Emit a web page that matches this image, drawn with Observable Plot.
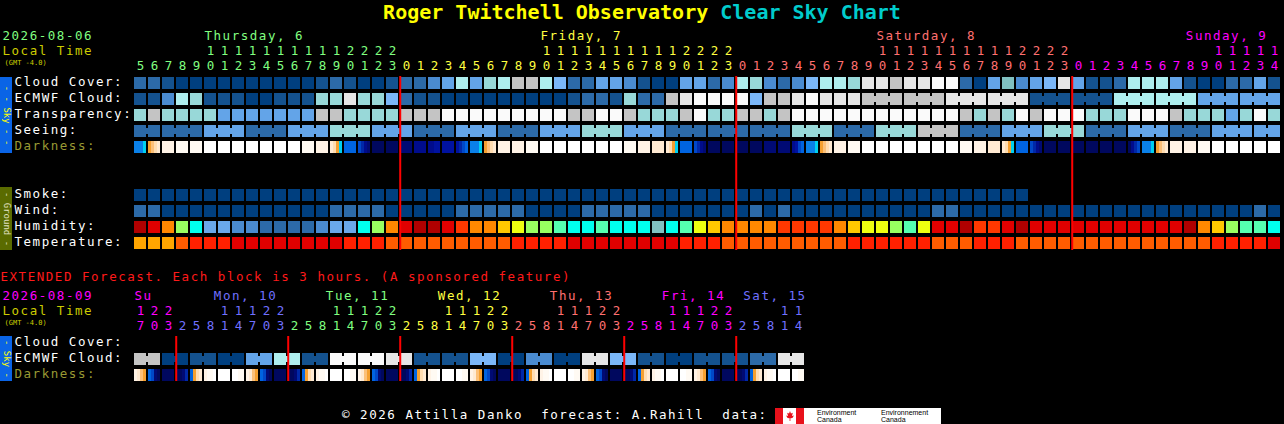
<!DOCTYPE html>
<html>
<head>
<meta charset="utf-8">
<script src="https://cdn.jsdelivr.net/npm/d3@7"></script>
<script src="https://cdn.jsdelivr.net/npm/@observablehq/plot@0.6"></script>
<style>
  html, body { margin: 0; padding: 0; background: #000; overflow: hidden; }
  #wrap { position: relative; width: 1284px; height: 424px; background: #000; }
  #wrap svg { position: absolute; left: 0; top: 0; display: block; }
  #wrap svg g[font-size="12.5"] { letter-spacing: 1.53px; }
  #title { position: absolute; left: 0; top: 0; width: 1284px; text-align: center; font: bold 20px "DejaVu Sans Mono", monospace; line-height: 24px; white-space: pre; z-index: 2; }
  #footer { position: absolute; left: 342px; top: 406px; font: 12.5px "DejaVu Sans Mono", monospace; letter-spacing: 1.53px; line-height: 18px; color: #fff; white-space: pre; z-index: 2; }
  #logo { position: absolute; left: 775px; top: 408px; width: 166px; height: 16px; background: #fff; z-index: 2; overflow: hidden; }
  #logo .r { position: absolute; top: 0; height: 16px; width: 8px; background: #e8111b; }
  #logo .leaf { position: absolute; left: 11px; top: 3px; width: 8px; height: 10px; background: #e8111b;
    clip-path: polygon(50% 0, 62% 25%, 85% 18%, 75% 50%, 100% 45%, 80% 70%, 55% 72%, 55% 100%, 45% 100%, 45% 72%, 20% 70%, 0 45%, 25% 50%, 15% 18%, 38% 25%); }
  #logo .t { position: absolute; top: 1px; font: 7px/7px "Liberation Sans", sans-serif; color: #000; white-space: pre; }
</style>
</head>
<body>
<div id="wrap">
  <div id="title"></div>
  <div id="footer"></div>
  <div id="logo"><div class="r" style="left:0"></div><div class="leaf"></div><div class="r" style="left:21px"></div>
    <div class="t" style="left:42px">Environment
Canada</div><div class="t" style="left:106px">Environnement
Canada</div></div>
</div>
<script>
// ---------------- DATA ----------------
const titleMain = "Roger Twitchell Observatory";
const titleSub = "Clear Sky Chart";
const footerText = "\u00A9 2026 Attilla Danko  forecast: A.Rahill  data: ";
const mainDate = "2026-08-06";
const extDate = "2026-08-09";
const localTimeLabel = "Local Time";
const gmtLabel = "(GMT -4.0)";
const extendedNote = "EXTENDED Forecast. Each block is 3 hours. (A sponsored feature)";

const mainDayNames = ["Thursday, 6", "Friday, 7", "Saturday, 8", "Sunday, 9"];
const mainFirstHour = [5, 0, 0, 0];
const mainLastHour = [23, 23, 23, 14];

const extDayNames = ["Su", "Mon, 10", "Tue, 11", "Wed, 12", "Thu, 13", "Fri, 14", "Sat, 15"];
const extBlockHours = [
  [17, 20, 23],
  [2, 5, 8, 11, 14, 17, 20, 23],
  [2, 5, 8, 11, 14, 17, 20, 23],
  [2, 5, 8, 11, 14, 17, 20, 23],
  [2, 5, 8, 11, 14, 17, 20, 23],
  [2, 5, 8, 11, 14, 17, 20, 23],
  [2, 5, 8, 11, 14]
];

const skyRowLabels = ["Cloud Cover:", "ECMWF Cloud:", "Transparency:", "Seeing:", "Darkness:"];
const groundRowLabels = ["Smoke:", "Wind:", "Humidity:", "Temperature:"];
const extRowLabels = ["Cloud Cover:", "ECMWF Cloud:", "Darkness:"];

// colour levels (indices into palettes below)
const cloudCover = [2,2,1,0,0,0,0,0,0,0,0,0,0,1,2,1,0,0,1,2,2,
  3,4,6,4,7,6,9,9,6,5,2,2,4,4,3,1,0,0,4,4,2,3,
  6,7,3,2,3,5,6,6,
  7,10,10,9,10,10,11,11,2,0,4,8,3,4,5,10,
  4,1,1,2,6,6,6,4,1,0,0,2,2,4,1];
const ecmwfHourly = [1,1,3,6,7,1,1,1,0,0,1,1,1,7,7,10,7,7,5,2,1,
  1,0,0,0,0,0,0,0,0,0,1,2,2,1,7,2,2,9,10,11,11,11,11,5,9,9,10,11,10,10,
  10];
const ecmwf3h = [9,9,10,10,1,1,6,6,4,4];
const transparency = [7,9,7,7,7,7,4,4,4,4,4,4,4,9,9,7,7,7,7,9,9,
  9,11,11,11,11,11,11,11,11,11,9,9,11,11,9,7,7,7,9,11,7,7,
  9,9,7,9,11,11,11,11,11,11,11,11,11,11,11,11,9,7,9,7,11,9,11,11,
  11,7,7,7,11,11,11,9,7,7,7,4,7,11,7];
const seeing3h = [2,2,4,2,4,7,4,2,4,2,4,7,4,2,2,2,7,2,7,9,2,4,7,2,4,2,4,4];
const smoke = [0,0,0,0,0,0,0,0,0,0,0,0,0,0,0,0,0,0,0,0,0,0,0,0,0,0,0,0,0,0,0,0,
  0,0,0,0,0,0,0,0,0,0,0,0,0,0,0,0,0,0,0,0,0,0,0,0,0,0,0,0,0,0,0,0];
const wind = [2,2,0,0,0,0,0,0,0,0,0,0,0,0,2,2,2,2,0,0,0,
  0,0,2,2,2,2,2,0,0,0,0,2,2,2,2,2,0,0,0,0,0,0,0,2,0,2,0,0,0,0,
  0,0,0,0,0,0,2,2,0,0,0,0,0,0,0,0,0,0,0,0,0,0,0,0,0,0,0,0,0,2,0];
const humidity = [12,11,9,6,4,2,2,1,1,0,0,0,0,1,2,2,4,6,9,11,12,
  12,11,10,9,9,8,7,6,6,5,4,4,5,4,4,4,3,4,5,7,8,9,9,9,9,10,10,10,10,9,
  8,7,7,6,5,7,11,11,12,10,10,11,12,11,11,11,11,11,11,11,11,11,11,11,12,9,8,6,5,5,4];
const temperature = [0,0,0,1,2,2,2,3,3,3,3,3,3,3,3,2,2,2,1,1,1,
  1,1,1,1,1,1,2,2,2,2,3,3,3,3,3,3,3,3,2,2,2,1,1,1,1,1,1,1,1,1,
  2,2,2,2,2,2,1,1,1,2,2,2,1,1,1,1,1,1,1,1,1,1,1,1,1,1,2,2,2,2,3];

// darkness: four quarter-hour samples per hourly column
const darkThu = [8,8,8,7, 6,5,4,3, 2,2,2,2, 1,1,1,1, 1,1,1,1, 0,0,0,0, 0,0,0,0, 0,0,0,0, 0,0,0,0,
  0,0,0,0, 0,0,0,0, 0,0,0,0, 1,1,1,1, 2,2,2,2, 3,4,6,7, 9,9,9,9, 10,11,13,14, 15,15,15,15, 15,15,15,15];
const darkFri = [14,14,14,14, 13,13,13,13, 13,13,12,12, 12,12,12,12, 12,11,10,9, 8,8,8,7, 6,5,4,3, 2,2,2,2,
  2,2,2,2, 1,1,1,1, 0,0,0,0, 0,0,0,0, 0,0,0,0, 0,0,0,0, 0,0,0,0, 0,0,0,0,
  1,1,1,1, 2,2,2,2, 3,3,3,3, 3,4,6,7, 9,9,9,9, 10,11,13,14, 15,15,15,15, 15,15,15,15];
const darkSat = [15,15,15,15, 15,15,15,15, 14,14,14,14, 14,14,14,14, 13,12,10,9, 8,8,8,7, 6,5,4,3, 2,2,2,2,
  1,1,1,1, 0,0,0,0, 0,0,0,0, 0,0,0,0, 0,0,0,0, 0,0,0,0, 0,0,0,0, 0,0,0,0,
  1,1,1,1, 2,2,2,2, 3,3,3,3, 3,4,6,7, 9,9,9,9, 10,11,13,14, 15,15,15,15, 15,15,15,15];
const darkSun = [15,15,15,15, 15,15,15,15, 15,15,15,15, 15,15,15,15, 15,13,11,10, 8,8,8,7, 6,5,4,3, 2,2,2,2,
  2,2,2,2, 1,1,1,1, 0,0,0,0, 0,0,0,0, 0,0,0,0, 0,0,0,0, 0,0,0,0];

// extended forecast (3-hour blocks)
const extEcmwf6h = [9,0,1,0,4,6,1,11,11,10,1,1,5,0,3,0,10,5,1,0,1,1,2,10];
const extDarkSu  = [2,3,5,6, 9,10,14,15, 15,15,15,15];
const extDarkMon = [15,15,14,11, 9,6,4,3, 2,1,1,0, 0,0,0,0, 0,0,1,1, 2,3,5,6, 9,10,14,15, 15,15,15,15];
const extDarkTue = [15,15,14,11, 9,6,4,3, 2,1,1,0, 0,0,0,0, 0,0,1,1, 2,3,5,6, 9,10,14,15, 15,15,15,15];
const extDarkWed = [15,15,14,11, 9,6,4,3, 2,1,1,0, 0,0,0,0, 0,0,1,1, 2,3,5,6, 9,10,14,15, 15,15,15,15];
const extDarkThu = [15,15,14,11, 9,6,4,3, 2,1,1,0, 0,0,0,0, 0,0,1,1, 2,3,5,6, 9,10,14,15, 15,15,15,15];
const extDarkFri = [15,15,14,11, 9,6,4,3, 2,1,1,0, 0,0,0,0, 0,0,1,1, 2,3,5,6, 9,10,14,15, 15,15,15,15];
const extDarkSat = [15,15,14,11, 9,6,4,3, 2,1,1,0, 0,0,0,0, 0,0,1,1];

// ---------------- PALETTES ----------------
const palettes = {
  sky: ["#003f7f","#14528f","#2c6aa8","#4a8bd0","#63a4e8","#7bb7f8","#aeeeee","#98d8d8","#80c0c0","#c4c4c4","#e6e6e6","#fafafa"],
  hum: ["#2c6aa8","#4a8bd0","#6aa8ea","#80c0c0","#00ffee","#55ffb0","#98ff60","#eeff10","#ffc800","#ff8800","#ff3800","#e00000","#b00000"],
  temp: ["#ffa500","#ff5c00","#ff2000","#e00000"],
  dark: ["#ffffff","#fffaf3","#fff3e6","#ffead2","#ffdcb0","#fcc078","#f5a030","#00d0f0","#0a80e8","#0064e0","#0048c8","#0028a8","#0012a0","#000c8c","#000a74","#00085e"],
  day: ["#80ff80","#ffff40","#ff7070","#ff00ff","#7070ff"],
  ui: ["#cccc00","#999933","#ff1a1a","#ffffff","#0a64e6","#5a6b00","#ffff00","#e0e0c0","#ff0000"]
};
const colorDomain = [], colorRange = [];
for (const [p, cols] of Object.entries(palettes)) cols.forEach((c, i) => { colorDomain.push(p + "-" + i); colorRange.push(c); });
const UI = {localTime: "ui-0", darkLabel: "ui-1", extNote: "ui-2", white: "ui-3", skyBar: "ui-4", groundBar: "ui-5", skyText: "ui-6", groundText: "ui-7", midnight: "ui-8"};

// ---------------- LAYOUT ----------------
const W = 1284, H = 424;
const LEFT = 134, PITCH = 14, BLOCK = 12, TOP = 77, ROWH = 16, BLOCKH = 12;
const colOf = px => (px - LEFT) / PITCH;
const rowOf = py => (py - TOP) / ROWH;
const ROW = {cloud: 0, ecmwf: 1, transp: 2, seeing: 3, dark: 4, smoke: 7, wind: 8, hum: 9, temp: 10,
  extCloud: rowOf(337), extEcmwf: rowOf(353), extDark: rowOf(369)};
const FONT = "DejaVu Sans Mono";
const FS = 12.5;          // text size; letter-spacing keeps a 9px character pitch
const CHAR = 9.03;
const bw = BLOCK / PITCH, bh = BLOCKH / ROWH;

// columns
const mainCols = [];
mainDayNames.forEach((name, d) => { for (let h = mainFirstHour[d]; h <= mainLastHour[d]; h++) mainCols.push({col: mainCols.length, day: d, hour: h}); });
const extCols = [];
extBlockHours.forEach((hrs, d) => hrs.forEach(h => extCols.push({col: extCols.length, day: d, hour: h})));

// cells
const cells = [], bridges = [];
function addRow(values, row, pal, groupOf) {
  values.forEach((v, i) => cells.push({col: i, row, key: pal + "-" + v}));
  if (groupOf) for (let i = 0; i < values.length - 1; i++) {
    const g1 = groupOf(i), g2 = groupOf(i + 1);
    if (g1 !== null && g1 === g2) bridges.push({col: i, row, key: pal + "-" + values[i]});
  }
}
addRow(cloudCover, ROW.cloud, "sky");
const ecmwfAll = mainCols.map(c => c.col < ecmwfHourly.length ? ecmwfHourly[c.col] : ecmwf3h[Math.floor((c.col - ecmwfHourly.length) / 3)]);
addRow(ecmwfAll, ROW.ecmwf, "sky", i => i < ecmwfHourly.length ? null : Math.floor((i - ecmwfHourly.length) / 3));
addRow(transparency, ROW.transp, "sky");
const seeingAll = mainCols.map(c => seeing3h[Math.floor((c.col + 1) / 3)]);
addRow(seeingAll, ROW.seeing, "sky", i => Math.floor((i + 1) / 3));
addRow(smoke, ROW.smoke, "sky");
addRow(wind, ROW.wind, "sky");
addRow(humidity, ROW.hum, "hum");
addRow(temperature, ROW.temp, "temp");
const extEcmwfAll = extCols.map(c => extEcmwf6h[Math.floor(c.col / 2)]);
addRow(extEcmwfAll, ROW.extEcmwf, "sky", i => Math.floor(i / 2));

// darkness sub-cells
const subs = [];
function addDark(values, row) {
  values.forEach((v, k) => subs.push({col: Math.floor(k / 4), s: k % 4, row, key: "dark-" + v}));
}
addDark([...darkThu, ...darkFri, ...darkSat, ...darkSun], ROW.dark);
addDark([...extDarkSu, ...extDarkMon, ...extDarkTue, ...extDarkWed, ...extDarkThu, ...extDarkFri, ...extDarkSat], ROW.extDark);

// midnights
const mainMidnights = mainCols.filter(c => c.hour === 0).map(c => c.col);
const extMidnights = extCols.filter((c, i) => i > 0 && c.day !== extCols[i - 1].day).map(c => c.col);

// header labels
const charCols = CHAR / PITCH;
const mainDayLabels = mainDayNames.map((t, d) => {
  const c10 = mainCols.find(c => c.day === d && c.hour === 10).col;
  return {t, x: Math.min(c10, mainCols.length - t.length * charCols - 1.1), key: "day-" + (d % 5)};
});
const extDayLabels = extDayNames.map((t, d) => {
  const first = extCols.find(c => c.day === d);
  const pos = first.col - first.hour / 3 + 10 / 3;
  return {t, x: Math.max(0, Math.min(pos, extCols.length - t.length * charCols)), key: "day-" + ((d + 3) % 5)};
});

const leftTexts = [
  {t: mainDate, y: rowOf(35), px: 2, key: "day-0"},
  {t: localTimeLabel, y: rowOf(50), px: 2, key: UI.localTime},
  {t: extendedNote, y: rowOf(276), px: 0, key: UI.extNote},
  {t: extDate, y: rowOf(295.5), px: 2, key: "day-3"},
  {t: localTimeLabel, y: rowOf(310.5), px: 2, key: UI.localTime}
];
const gmtTexts = [
  {t: gmtLabel, y: rowOf(62.5), px: 4, key: UI.localTime},
  {t: gmtLabel, y: rowOf(322.5), px: 4, key: UI.localTime}
];
const rowLabels = [
  ...skyRowLabels.map((t, i) => ({t, row: [ROW.cloud, ROW.ecmwf, ROW.transp, ROW.seeing, ROW.dark][i], key: t === "Darkness:" ? UI.darkLabel : UI.white})),
  ...groundRowLabels.map((t, i) => ({t, row: [ROW.smoke, ROW.wind, ROW.hum, ROW.temp][i], key: UI.white})),
  ...extRowLabels.map((t, i) => ({t, row: [ROW.extCloud, ROW.extEcmwf, ROW.extDark][i], key: t === "Darkness:" ? UI.darkLabel : UI.white}))
];
const sideBars = [
  {y1: ROW.cloud, y2: ROW.dark + bh, key: UI.skyBar, t: "- - Sky - -", tk: UI.skyText},
  {y1: rowOf(187), y2: rowOf(250), key: UI.groundBar, t: "- Ground -", tk: UI.groundText},
  {y1: rowOf(336), y2: ROW.extDark + bh, key: UI.skyBar, t: "- Sky -", tk: UI.skyText}
];

document.getElementById("title").innerHTML = `<span style="color:#ffff00">${titleMain}</span> <span style="color:#00cccc">${titleSub}</span>`;
document.getElementById("footer").textContent = footerText;

const textOpts = {fontFamily: FONT, fontSize: FS, textAnchor: "start"};
const digitX = d => d.col + bw / 2 + 0.76 / PITCH;   // compensate trailing letter-spacing
const chart = Plot.plot({
  width: W, height: H, margin: 0,
  x: {domain: [colOf(0), colOf(W)], range: [0, W], axis: null},
  y: {domain: [rowOf(0), rowOf(H)], range: [0, H], axis: null},
  color: {type: "ordinal", domain: colorDomain, range: colorRange},
  style: {background: "#000", color: "#fff"},
  marks: [
    // side bars
    Plot.rect(sideBars, {x1: () => colOf(0), x2: () => colOf(12), y1: "y1", y2: "y2", fill: "key"}),
    Plot.text(sideBars, {x: () => colOf(6), y: d => (d.y1 + d.y2) / 2, text: "t", rotate: 90, fill: "tk", fontFamily: FONT, fontSize: 9}),
    // blocks
    Plot.rect(cells, {x1: d => d.col, x2: d => d.col + bw, y1: d => d.row, y2: d => d.row + bh, fill: "key"}),
    Plot.rect(bridges, {x1: d => d.col + bw, x2: d => d.col + 1, y1: d => d.row + 3 / ROWH, y2: d => d.row + 9 / ROWH, fill: "key"}),
    Plot.rect(subs, {x1: d => d.col + d.s * bw / 4, x2: d => d.col + (d.s + 1) * bw / 4, y1: d => d.row, y2: d => d.row + bh, fill: "key"}),
    // midnight lines
    Plot.ruleX(mainMidnights, {x: d => d - 0.02, y1: () => rowOf(76), y2: () => rowOf(250), stroke: () => UI.midnight, strokeWidth: 2}),
    Plot.ruleX(extMidnights, {x: d => d - 0.02, y1: () => rowOf(336), y2: () => rowOf(381), stroke: () => UI.midnight, strokeWidth: 2}),
    // row labels
    Plot.text(rowLabels, {...textOpts, x: () => colOf(14), y: d => d.row + 0.3, text: "t", fill: "key"}),
    Plot.text(leftTexts, {...textOpts, x: d => colOf(d.px), y: "y", text: "t", fill: "key"}),
    Plot.text(gmtTexts, {fontFamily: FONT, fontSize: 7, textAnchor: "start", x: d => colOf(d.px), y: "y", text: "t", fill: "key"}),
    // main hour header
    Plot.text(mainDayLabels, {...textOpts, x: "x", y: () => rowOf(35), text: "t", fill: "key"}),
    Plot.text(mainCols.filter(c => c.hour >= 10), {...textOpts, textAnchor: "middle", x: digitX, y: () => rowOf(50), text: d => String(Math.floor(d.hour / 10)), fill: d => "day-" + (d.day % 5)}),
    Plot.text(mainCols, {...textOpts, textAnchor: "middle", x: digitX, y: () => rowOf(65), text: d => String(d.hour % 10), fill: d => "day-" + (d.day % 5)}),
    // extended header
    Plot.text(extDayLabels, {...textOpts, x: "x", y: () => rowOf(295.5), text: "t", fill: "key"}),
    Plot.text(extCols.filter(c => c.hour >= 10), {...textOpts, textAnchor: "middle", x: digitX, y: () => rowOf(310.5), text: d => String(Math.floor(d.hour / 10)), fill: d => "day-" + ((d.day + 3) % 5)}),
    Plot.text(extCols, {...textOpts, textAnchor: "middle", x: digitX, y: () => rowOf(325.5), text: d => String(d.hour % 10), fill: d => "day-" + ((d.day + 3) % 5)})
  ]
});
document.getElementById("wrap").appendChild(chart);
</script>
</body>
</html>
